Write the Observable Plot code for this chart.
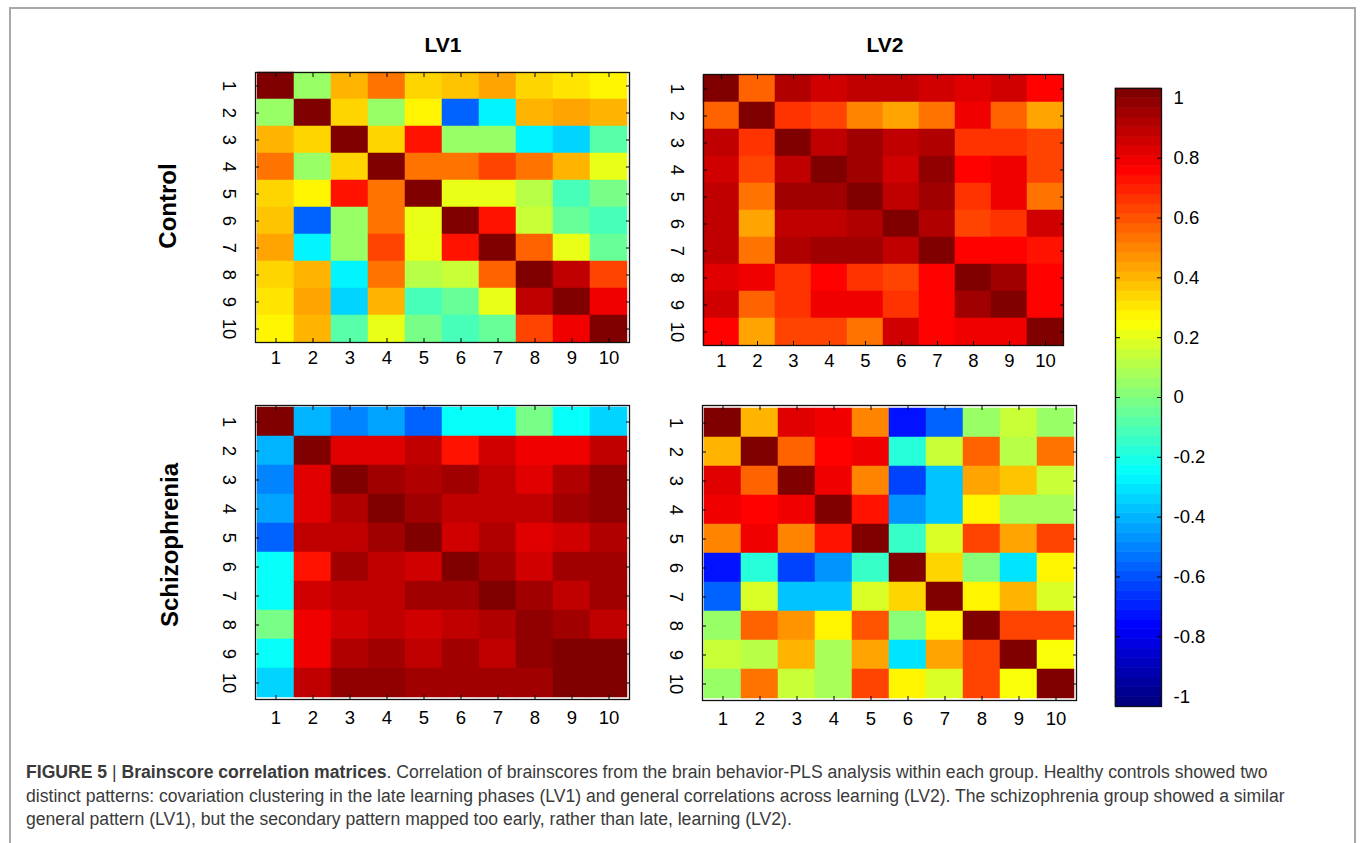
<!DOCTYPE html>
<html><head><meta charset="utf-8">
<script src="https://cdn.jsdelivr.net/npm/d3@7"></script>
<script src="https://cdn.jsdelivr.net/npm/@observablehq/plot@0.6"></script>
<style>
body{margin:0;background:#fff;font-family:"Liberation Sans",Arial,Helvetica,sans-serif;}
#fig{position:relative;width:1360px;height:843px;overflow:hidden;background:#fff;}
.abs{position:absolute;}
.frameline{position:absolute;background:#a8a8a8;}
.title{position:absolute;font-weight:bold;font-size:21px;color:#000;transform:translate(-50%,-50%);white-space:nowrap;}
.group{position:absolute;font-weight:bold;font-size:24px;color:#000;transform:translate(-50%,-50%) rotate(-90deg);white-space:nowrap;}
.cap{position:absolute;left:26px;top:761px;font-size:17.6px;line-height:23.5px;color:#3a3a3a;white-space:nowrap;}
</style></head><body><div id="fig"></div>
<script>
// ---------------- data ----------------
const steps = [1, 2, 3, 4, 5, 6, 7, 8, 9, 10];
const groups = ["Control", "Schizophrenia"];
const lvs = ["LV1", "LV2"];
const colorbarTicks = [-1, -0.8, -0.6, -0.4, -0.2, 0, 0.2, 0.4, 0.6, 0.8, 1];

const controlLV1 = [
  [1.00, 0.06, 0.40, 0.50, 0.33, 0.37, 0.43, 0.34, 0.30, 0.27],
  [0.06, 1.00, 0.33, 0.06, 0.25, -0.56, -0.27, 0.38, 0.42, 0.40],
  [0.40, 0.32, 1.00, 0.33, 0.69, 0.05, 0.04, -0.26, -0.33, -0.08],
  [0.50, 0.06, 0.33, 1.00, 0.50, 0.53, 0.60, 0.50, 0.40, 0.19],
  [0.33, 0.25, 0.69, 0.50, 1.00, 0.19, 0.19, 0.12, -0.10, -0.03],
  [0.37, -0.56, 0.05, 0.53, 0.19, 1.00, 0.69, 0.14, -0.06, -0.10],
  [0.43, -0.27, 0.04, 0.60, 0.19, 0.69, 1.00, 0.56, 0.20, -0.06],
  [0.34, 0.40, -0.26, 0.50, 0.12, 0.14, 0.56, 1.00, 0.85, 0.60],
  [0.30, 0.42, -0.33, 0.40, -0.10, -0.06, 0.20, 0.85, 1.00, 0.75],
  [0.27, 0.40, -0.08, 0.19, -0.03, -0.10, -0.06, 0.60, 0.75, 1.00]
];
const controlLV2 = [
  [1.00, 0.56, 0.90, 0.83, 0.86, 0.86, 0.84, 0.80, 0.84, 0.72],
  [0.56, 1.00, 0.65, 0.62, 0.48, 0.43, 0.50, 0.78, 0.55, 0.43],
  [0.87, 0.65, 1.00, 0.87, 0.91, 0.86, 0.89, 0.65, 0.65, 0.60],
  [0.83, 0.62, 0.87, 1.00, 0.93, 0.84, 0.94, 0.72, 0.78, 0.62],
  [0.86, 0.50, 0.91, 0.93, 0.97, 0.86, 0.93, 0.65, 0.78, 0.53],
  [0.86, 0.43, 0.87, 0.87, 0.89, 1.00, 0.89, 0.62, 0.65, 0.83],
  [0.86, 0.50, 0.89, 0.93, 0.93, 0.87, 0.97, 0.72, 0.72, 0.69],
  [0.80, 0.78, 0.65, 0.72, 0.65, 0.62, 0.72, 1.00, 0.91, 0.72],
  [0.84, 0.56, 0.65, 0.78, 0.78, 0.65, 0.72, 0.91, 1.00, 0.72],
  [0.72, 0.43, 0.60, 0.62, 0.53, 0.83, 0.72, 0.78, 0.75, 1.00]
];
const schizoLV1 = [
  [1.00, -0.40, -0.47, -0.42, -0.56, -0.24, -0.25, -0.03, -0.25, -0.34],
  [-0.40, 1.00, 0.81, 0.81, 0.87, 0.69, 0.84, 0.78, 0.75, 0.87],
  [-0.47, 0.80, 0.97, 0.91, 0.89, 0.91, 0.87, 0.81, 0.89, 0.94],
  [-0.42, 0.80, 0.89, 1.00, 0.91, 0.86, 0.87, 0.87, 0.91, 0.94],
  [-0.56, 0.87, 0.87, 0.91, 1.00, 0.83, 0.89, 0.81, 0.84, 0.89],
  [-0.24, 0.70, 0.91, 0.86, 0.83, 1.00, 0.91, 0.84, 0.91, 0.91],
  [-0.25, 0.84, 0.87, 0.87, 0.91, 0.91, 0.97, 0.91, 0.87, 0.93],
  [-0.03, 0.78, 0.83, 0.87, 0.83, 0.86, 0.89, 0.96, 0.93, 0.87],
  [-0.25, 0.75, 0.89, 0.91, 0.86, 0.91, 0.87, 0.94, 0.97, 0.97],
  [-0.34, 0.87, 0.94, 0.94, 0.91, 0.91, 0.93, 0.91, 0.97, 0.97]
];
const schizoLV2 = [
  [1.00, 0.40, 0.81, 0.78, 0.47, -0.69, -0.56, 0.06, 0.14, 0.05],
  [0.40, 1.00, 0.55, 0.72, 0.78, -0.16, 0.14, 0.56, 0.11, 0.53],
  [0.81, 0.55, 1.00, 0.78, 0.47, -0.60, -0.37, 0.43, 0.37, 0.13],
  [0.78, 0.72, 0.78, 1.00, 0.69, -0.44, -0.37, 0.25, 0.07, 0.09],
  [0.47, 0.78, 0.47, 0.69, 1.00, -0.13, 0.16, 0.60, 0.42, 0.62],
  [-0.69, -0.16, -0.60, -0.44, -0.13, 1.00, 0.34, 0.00, -0.31, 0.25],
  [-0.56, 0.16, -0.37, -0.37, 0.16, 0.34, 1.00, 0.25, 0.40, 0.16],
  [0.06, 0.56, 0.45, 0.25, 0.58, 0.00, 0.25, 1.00, 0.62, 0.60],
  [0.14, 0.11, 0.40, 0.07, 0.42, -0.31, 0.42, 0.62, 1.00, 0.23],
  [0.05, 0.53, 0.13, 0.09, 0.62, 0.25, 0.16, 0.60, 0.23, 1.00]
];

const captionBold1 = "FIGURE 5";
const captionBold2 = "Brainscore correlation matrices";
const captionLines = [
  ". Correlation of brainscores from the brain behavior-PLS analysis within each group. Healthy controls showed two",
  "distinct patterns: covariation clustering in the late learning phases (LV1) and general correlations across learning (LV2). The schizophrenia group showed a similar",
  "general pattern (LV1), but the secondary pattern mapped too early, rather than late, learning (LV2)."
];

// ---------------- colour map (MATLAB jet, 64 levels) ----------------
function jet(t) {
  const k = Math.max(0, Math.min(63, Math.floor(t * 64)));
  const u = k / 63;
  const c = v => Math.round(255 * Math.max(0, Math.min(1, v)));
  return `rgb(${c(1.5 - Math.abs(4 * u - 3))},${c(1.5 - Math.abs(4 * u - 2))},${c(1.5 - Math.abs(4 * u - 1))})`;
}
const colorScale = {type: "linear", domain: [-1, 1], interpolate: jet};
const FONT = "'Liberation Sans', Arial, Helvetica, sans-serif";
const TICK_FS = 18.5;

const fig = document.getElementById("fig");
function place(el, left, top) {
  const d = document.createElement("div");
  d.className = "abs";
  d.style.left = left + "px";
  d.style.top = top + "px";
  d.appendChild(el);
  fig.appendChild(d);
}

// ---------------- matrices ----------------
function matrixPlot(M, box, padX) {
  const mL = 45, mR = 8, mT = 8, mB = 38;
  const data = M.flatMap((r, i) => r.map((v, j) => ({row: steps[i], col: steps[j], value: v})));
  const chart = Plot.plot({
    width: box.w + mL + mR, height: box.h + mT + mB,
    marginLeft: mL, marginRight: mR, marginTop: mT, marginBottom: mB,
    x: {type: "band", domain: steps, padding: 0, label: null},
    y: {type: "band", domain: steps, padding: 0, label: null},
    color: colorScale,
    style: {fontFamily: FONT, fontSize: TICK_FS + "px", color: "#000", background: "transparent"},
    marks: [
      Plot.cell(data, {x: "col", y: "row", fill: "value", stroke: "value", strokeWidth: 0.5}),
      Plot.axisX({anchor: "bottom", tickSize: 0, tickPadding: padX, fontSize: TICK_FS}),
      Plot.axisX({anchor: "bottom", tickSize: -4, tickFormat: () => ""}),
      Plot.axisX({anchor: "top", tickSize: -4, tickFormat: () => ""}),
      Plot.axisY({anchor: "left", tickSize: 0, tickPadding: 27, rotate: 90, textAnchor: "middle", lineAnchor: "middle", fontSize: TICK_FS}),
      Plot.axisY({anchor: "left", tickSize: -4, tickFormat: () => ""}),
      Plot.axisY({anchor: "right", tickSize: -4, tickFormat: () => ""}),
      Plot.frame({stroke: "#111", strokeWidth: 1.3})
    ]
  });
  place(chart, box.x - mL, box.y - mT);
}

const boxes = {
  "Control|LV1": {x: 255, y: 72, w: 374, h: 270},
  "Control|LV2": {x: 703, y: 74, w: 360, h: 271},
  "Schizophrenia|LV1": {x: 255, y: 405, w: 374, h: 294},
  "Schizophrenia|LV2": {x: 702, y: 405, w: 374, h: 295}
};
const matrices = {
  "Control|LV1": controlLV1, "Control|LV2": controlLV2,
  "Schizophrenia|LV1": schizoLV1, "Schizophrenia|LV2": schizoLV2
};
groups.forEach((g, gi) => lvs.forEach(lv => {
  matrixPlot(matrices[g + "|" + lv], boxes[g + "|" + lv], gi === 0 ? 8 : 11);
}));

// ---------------- colour bar ----------------
(function colorbar() {
  const mL = 6, mR = 60, mT = 14, mB = 14;
  const w = 46, h = 618;
  const lim = 1.033;
  const n = 64;
  const levels = d3.range(n).map(i => ({
    lo: -lim + (2 * lim) * i / n,
    hi: -lim + (2 * lim) * (i + 1) / n,
    value: -1 + 2 * (i + 0.5) / n
  }));
  const chart = Plot.plot({
    width: w + mL + mR, height: h + mT + mB,
    marginLeft: mL, marginRight: mR, marginTop: mT, marginBottom: mB,
    x: {domain: [0, 1], axis: null},
    y: {domain: [-lim, lim], label: null},
    color: colorScale,
    style: {fontFamily: FONT, fontSize: TICK_FS + "px", color: "#000", background: "transparent"},
    marks: [
      Plot.rect(levels, {x1: 0, x2: 1, y1: "lo", y2: "hi", fill: "value", stroke: "value", strokeWidth: 0.6}),
      Plot.axisY({anchor: "right", ticks: colorbarTicks, tickSize: 0, tickPadding: 12, fontSize: TICK_FS,
                  textAnchor: "start", tickFormat: d => String(d)}),
      Plot.axisY({anchor: "right", ticks: colorbarTicks.slice(1, -1), tickSize: -5, tickFormat: () => ""}),
      Plot.axisY({anchor: "left", ticks: colorbarTicks.slice(1, -1), tickSize: -5, tickFormat: () => ""}),
      Plot.frame({stroke: "#111", strokeWidth: 1.3})
    ]
  });
  place(chart, 1115 - mL, 88 - mT);
})();

// ---------------- text ----------------
function addDiv(cls, text, x, y) {
  const d = document.createElement("div");
  d.className = cls;
  d.textContent = text;
  d.style.left = x + "px";
  d.style.top = y + "px";
  fig.appendChild(d);
}
addDiv("title", lvs[0], 443, 45);
addDiv("title", lvs[1], 885, 45);
addDiv("group", groups[0], 168, 206);
addDiv("group", groups[1], 170, 545);

const cap = document.createElement("div");
cap.className = "cap";
cap.innerHTML = `<b>${captionBold1}</b> <span style="font-weight:300">|</span> <b>${captionBold2}</b>${captionLines[0]}<br>${captionLines[1]}<br>${captionLines[2]}`;
fig.appendChild(cap);

// figure border
const lines = [
  {left: 9, top: 7, width: 1347, height: 2},
  {left: 9, top: 7, width: 2, height: 836},
  {left: 1354, top: 7, width: 2, height: 836}
];
lines.forEach(l => {
  const d = document.createElement("div");
  d.className = "frameline";
  Object.entries(l).forEach(([k, v]) => d.style[k] = v + "px");
  fig.appendChild(d);
});
</script>
</body></html>
